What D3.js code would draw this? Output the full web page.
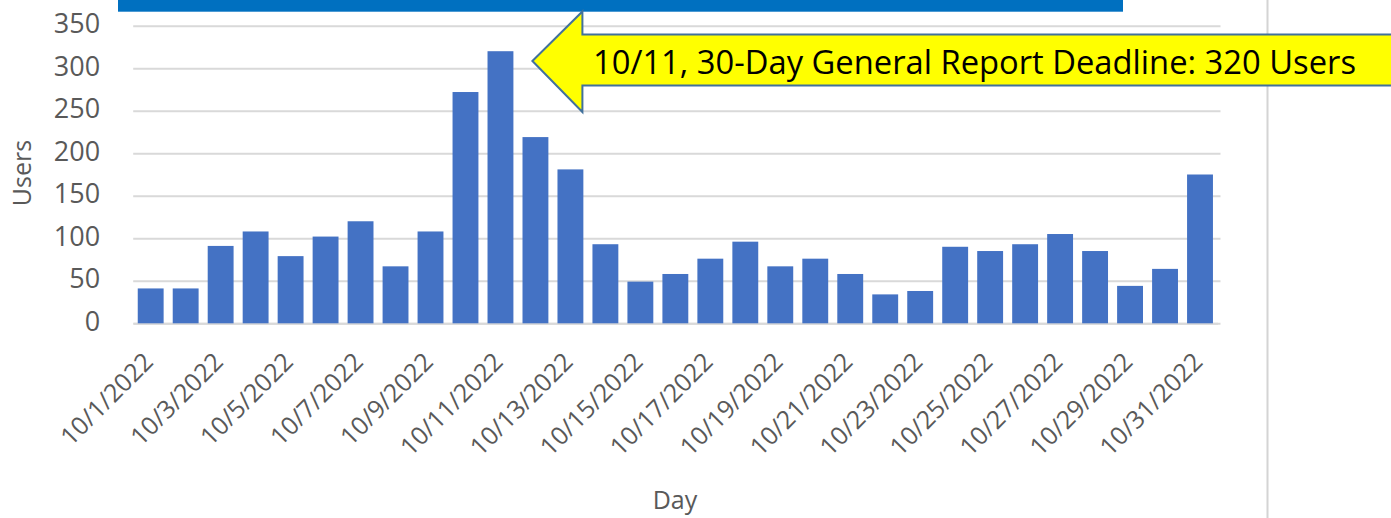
<!DOCTYPE html>
<html>
<head>
	<meta charset="utf-8">
	<script src="https://cdnjs.cloudflare.com/ajax/libs/d3/7.8.5/d3.min.js" charset="utf-8"></script>
	<style>
		html, body {
			margin: 0;
			padding: 0;
			background: #fff;
		}
		body {
			font-family: 'Open Sans', sans-serif;
		}
		.axis text {
			fill: #595959;
			font-family: 'Open Sans', sans-serif;
		}
		.title {
			fill: #595959;
			font-size: 25px;
			text-anchor: middle;
		}
	</style>
</head>
<body>

<div id="chart"></div>

<script>

///////////////////////////////////////////////////
//////////////////// The data /////////////////////
///////////////////////////////////////////////////

var days = ["10/1/2022", "10/2/2022", "10/3/2022", "10/4/2022", "10/5/2022", "10/6/2022",
	"10/7/2022", "10/8/2022", "10/9/2022", "10/10/2022", "10/11/2022", "10/12/2022",
	"10/13/2022", "10/14/2022", "10/15/2022", "10/16/2022", "10/17/2022", "10/18/2022",
	"10/19/2022", "10/20/2022", "10/21/2022", "10/22/2022", "10/23/2022", "10/24/2022",
	"10/25/2022", "10/26/2022", "10/27/2022", "10/28/2022", "10/29/2022", "10/30/2022",
	"10/31/2022"];

var users = [41, 41, 91, 108, 79, 102, 120, 67, 108, 272, 320, 219, 181, 93, 49, 58,
	76, 96, 67, 76, 58, 34, 38, 90, 85, 93, 105, 85, 44, 64, 175];

var yTicks = [0, 50, 100, 150, 200, 250, 300, 350];

//only every other day gets a label on the axis
var dayLabels = days.filter(function(d, i) { return i % 2 === 0; });

var callout = {day: "10/11/2022", text: "10/11, 30-Day General Report Deadline: 320 Users"};

///////////////////////////////////////////////////
//////////////// Set the Scales ///////////////////
///////////////////////////////////////////////////

var totalWidth = 1391,
	totalHeight = 518;

var margin = {top: 25.7, right: 173.5, bottom: 194.7, left: 133.2},
	width = totalWidth - margin.left - margin.right,
	height = totalHeight - margin.top - margin.bottom;

var x = d3.scaleBand()
	.domain(days)
	.range([0, width])
	.paddingInner(0.26)
	.paddingOuter(0.13);

var y = d3.scaleLinear()
	.domain([0, 350])
	.range([height, 0]);

///////////////////////////////////////////////////
////////////// Initialize the SVG /////////////////
///////////////////////////////////////////////////

var svgRoot = d3.select("#chart")
	.append("svg")
	.attr("width", totalWidth)
	.attr("height", totalHeight);

var svg = svgRoot.append("g")
	.attr("transform", "translate(" + margin.left + "," + margin.top + ")");

//Thin divider on the right side of the picture
svgRoot.append("line")
	.attr("x1", 1267.5).attr("x2", 1267.5)
	.attr("y1", 0).attr("y2", totalHeight)
	.style("stroke", "#d4d4d4")
	.style("stroke-width", 2);

//Blue banner cut off at the top
svgRoot.append("rect")
	.attr("x", 118)
	.attr("y", 0)
	.attr("width", 1005)
	.attr("height", 11.7)
	.style("fill", "#0070C0");

///////////////////////////////////////////////////
/////////////////// The axes //////////////////////
///////////////////////////////////////////////////

//Y axis with gridlines
var yAxis = svg.append("g")
	.attr("class", "axis y")
	.call(d3.axisLeft(y)
		.tickValues(yTicks)
		.tickSize(-(width + 3))
		.tickPadding(33));

yAxis.select(".domain").remove();
yAxis.selectAll(".tick line")
	.style("stroke", "#d9d9d9")
	.style("stroke-width", 2);
yAxis.selectAll(".tick text")
	.style("font-size", "27px")
	.attr("dy", "0.26em");

//X axis, labels turned 45 degrees
var xAxis = svg.append("g")
	.attr("class", "axis x")
	.attr("transform", "translate(0," + height + ")")
	.call(d3.axisBottom(x)
		.tickValues(dayLabels)
		.tickSize(0));

xAxis.select(".domain")
	.style("stroke", "#d9d9d9")
	.style("stroke-width", 2);

xAxis.selectAll(".tick text")
	.style("font-size", "25px")
	.style("text-anchor", "end")
	.attr("y", 0)
	.attr("dy", 0)
	.attr("transform", "translate(4,40) rotate(-45)");

//Axis titles
svgRoot.append("text")
	.attr("class", "title")
	.attr("transform", "translate(31,173) rotate(-90)")
	.text("Users");

svgRoot.append("text")
	.attr("class", "title")
	.attr("x", 675)
	.attr("y", 509)
	.text("Day");

///////////////////////////////////////////////////
/////////////////// The bars //////////////////////
///////////////////////////////////////////////////

svg.selectAll(".bar")
	.data(users)
	.enter().append("rect")
	.attr("class", "bar")
	.attr("x", function(d, i) { return x(days[i]); })
	.attr("y", function(d) { return y(d); })
	.attr("width", x.bandwidth())
	.attr("height", function(d) { return height - y(d); })
	.style("fill", "#4472C4");

///////////////////////////////////////////////////
////////////////// The callout ////////////////////
///////////////////////////////////////////////////

//Yellow arrow pointing left at the highest bar
var tipX = margin.left + x(callout.day) + x.bandwidth() + 19,
	midY = 61,
	headX = tipX + 50;

var arrow = d3.path();
arrow.moveTo(tipX, midY);
arrow.lineTo(headX, midY - 49.5);
arrow.lineTo(headX, midY - 26.5);
arrow.lineTo(totalWidth + 10, midY - 26.5);
arrow.lineTo(totalWidth + 10, midY + 24.5);
arrow.lineTo(headX, midY + 24.5);
arrow.lineTo(headX, midY + 51);
arrow.closePath();

svgRoot.append("path")
	.attr("d", arrow.toString())
	.style("fill", "#FFFF00")
	.style("stroke", "#41719C")
	.style("stroke-width", 2);

svgRoot.append("text")
	.attr("x", 593)
	.attr("y", 74)
	.attr("textLength", 763)
	.attr("lengthAdjust", "spacingAndGlyphs")
	.style("font-family", "'Open Sans', sans-serif")
	.style("font-size", "33px")
	.style("fill", "#000")
	.text(callout.text);

</script>

</body>
</html>
